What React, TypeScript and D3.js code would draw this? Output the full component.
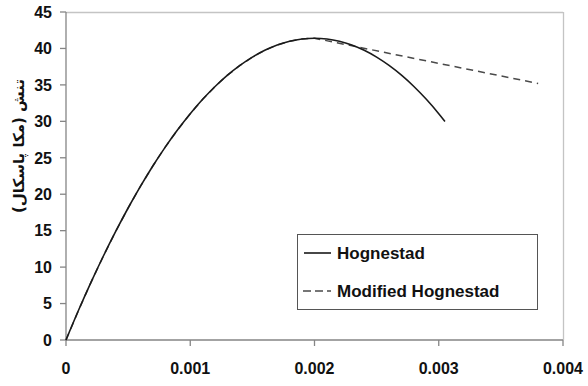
import React from "react";
import * as d3 from "d3";

// Strain values (mm/mm) shared by the ascending branch of both models
const strainAsc = [
  0, 0.0001, 0.0002, 0.0003, 0.0004, 0.0005, 0.0006, 0.0007, 0.0008, 0.0009, 0.001,
  0.0011, 0.0012, 0.0013, 0.0014, 0.0015, 0.0016, 0.0017, 0.0018, 0.0019, 0.002,
];
const stressAsc = [
  0, 4.04, 7.87, 11.49, 14.9, 18.11, 21.11, 23.91, 26.5, 28.88, 31.05,
  33.02, 34.78, 36.33, 37.67, 38.81, 39.74, 40.47, 40.99, 41.3, 41.4,
];

// Hognestad descending branch
const strainHogDesc = [0.0021, 0.0022, 0.0023, 0.0024, 0.0025, 0.0026, 0.0027, 0.0028, 0.0029, 0.003, 0.00305];
const stressHogDesc = [41.3, 40.99, 40.47, 39.74, 38.81, 37.67, 36.33, 34.78, 33.02, 31.05, 29.99];

// Modified Hognestad linear descending branch
const strainModDesc = [0.0038];
const stressModDesc = [35.2];

const xTicks = [0, 0.001, 0.002, 0.003, 0.004];
const xTickLabels = ["0", "0.001", "0.002", "0.003", "0.004"];
const yTicks = [0, 5, 10, 15, 20, 25, 30, 35, 40, 45];

const seriesNames = ["Hognestad", "Modified Hognestad"];
const yTitle = "تنش (مکا پاسکال)";

type Pt = [number, number];

export default function App() {
  const width = 588;
  const height = 386;
  const x = d3.scaleLinear().domain([0, 0.004]).range([66, 563]);
  const y = d3.scaleLinear().domain([0, 45]).range([340, 12]);

  const asc: Pt[] = strainAsc.map((s, i) => [s, stressAsc[i]]);
  const hog: Pt[] = asc.concat(strainHogDesc.map((s, i) => [s, stressHogDesc[i]] as Pt));
  const mod: Pt[] = asc.concat(strainModDesc.map((s, i) => [s, stressModDesc[i]] as Pt));

  const smooth = d3
    .line<Pt>()
    .x((d) => x(d[0]))
    .y((d) => y(d[1]))
    .curve(d3.curveMonotoneX);
  const straight = d3
    .line<Pt>()
    .x((d) => x(d[0]))
    .y((d) => y(d[1]))
    .curve(d3.curveLinear);

  const font = "'Liberation Sans', Arial, sans-serif";
  const [x0, x1] = x.range();
  const [yb, yt] = y.range();

  // legend box
  const lg = { x: 297, y: 234, w: 240, h: 75 };

  return (
    <svg
      width={width}
      height={height}
      style={{ position: "absolute", left: 0, top: 0, background: "#fff" }}
      fontFamily={font}
    >
      <rect x={0} y={0} width={width} height={height} fill="#fff" />
      {/* plot frame: light top/right edges */}
      <line x1={x0} x2={x1} y1={yt + 0.5} y2={yt + 0.5} stroke="#c4c4c4" strokeWidth={1.3} />
      <line x1={x1 + 0.5} x2={x1 + 0.5} y1={yt} y2={yb} stroke="#c4c4c4" strokeWidth={1.3} />

      {/* y axis */}
      <line x1={x0} x2={x0} y1={yt} y2={yb} stroke="#858585" strokeWidth={1.3} />
      {yTicks.map((t) => (
        <g key={"y" + t}>
          <line x1={x0 - 6} x2={x0} y1={y(t)} y2={y(t)} stroke="#858585" strokeWidth={1.3} />
          <text
            x={52}
            y={y(t)}
            dy="0.36em"
            textAnchor="end"
            fontSize={16}
            fontWeight="bold"
            fill="#111"
          >
            {t}
          </text>
        </g>
      ))}

      {/* x axis */}
      <line x1={x0} x2={x1} y1={yb} y2={yb} stroke="#858585" strokeWidth={1.3} />
      {xTicks.map((t, i) => (
        <g key={"x" + t}>
          <line x1={x(t)} x2={x(t)} y1={yb} y2={yb + 6} stroke="#858585" strokeWidth={1.3} />
          <text
            x={x(t)}
            y={374}
            textAnchor="middle"
            fontSize={16}
            fontWeight="bold"
            fill="#111"
          >
            {xTickLabels[i]}
          </text>
        </g>
      ))}

      {/* y-axis title */}
      <text
        transform={`translate(24,146) rotate(-90)`}
        textAnchor="middle"
        direction="rtl"
        fontSize={15}
        fontWeight="bold"
        fontFamily="'DejaVu Sans', sans-serif"
        fill="#111"
      >
        {yTitle}
      </text>

      {/* series */}
      <path d={straight(mod) ?? ""} fill="none" stroke="#4a4a4a" strokeWidth={1.5} strokeDasharray="7,5" />
      <path d={smooth(hog) ?? ""} fill="none" stroke="#1a1a1a" strokeWidth={1.6} />

      {/* legend */}
      <rect x={lg.x + 0.5} y={lg.y + 0.5} width={lg.w} height={lg.h} fill="#fff" stroke="#555" strokeWidth={1} />
      <line x1={304} x2={331} y1={253} y2={253} stroke="#1a1a1a" strokeWidth={1.6} />
      <text x={337} y={259} fontSize={17} fontWeight="bold" fill="#111">
        {seriesNames[0]}
      </text>
      <line x1={303} x2={331} y1={291} y2={291} stroke="#4a4a4a" strokeWidth={1.5} strokeDasharray="8,4" />
      <text x={337} y={297} fontSize={17} fontWeight="bold" fill="#111">
        {seriesNames[1]}
      </text>
    </svg>
  );
}
